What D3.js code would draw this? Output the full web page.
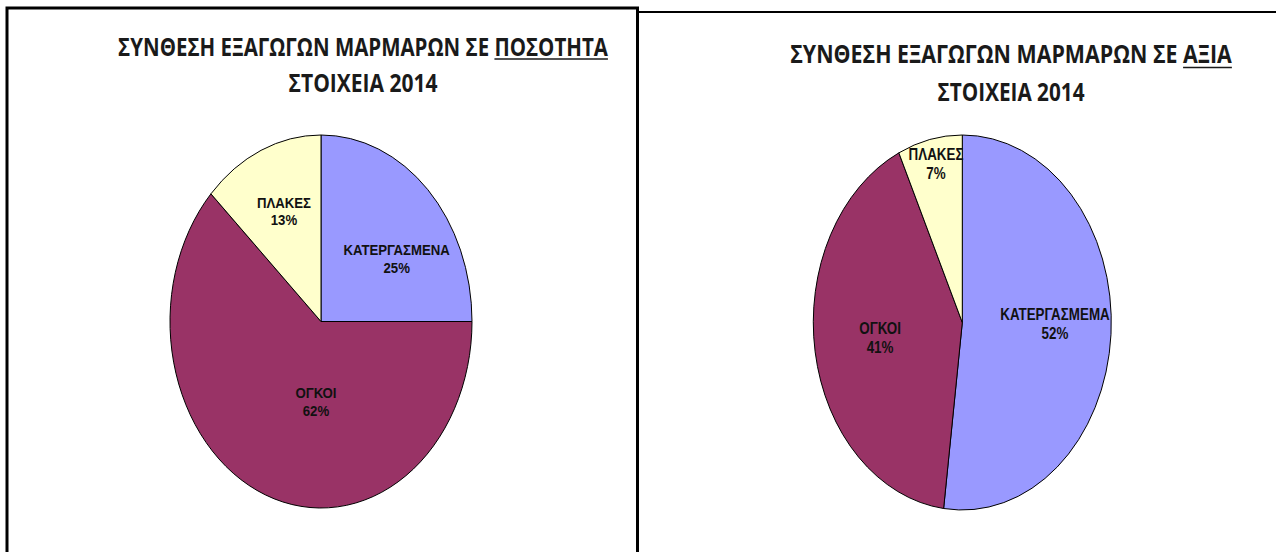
<!DOCTYPE html>
<html>
<head>
<meta charset="utf-8">
<script src="https://cdn.jsdelivr.net/npm/d3@7"></script>
<style>
  html, body { margin: 0; padding: 0; background: #fff; }
  svg { display: block; }
</style>
</head>
<body>
<svg width="1276" height="552"></svg>
<script>

// data (percent shares, 2014)
var qtyCategories = ["ΚΑΤΕΡΓΑΣΜΕΝΑ", "ΟΓΚΟΙ", "ΠΛΑΚΕΣ"];
var qtyShares = [25, 62, 13];
var valCategories = ["ΚΑΤΕΡΓΑΣΜΕΜΑ", "ΟΓΚΟΙ", "ΠΛΑΚΕΣ"];
var valShares = [52, 41, 7];
var sliceColors = ["#9999ff", "#993366", "#ffffcc"];

var titleMain = "ΣΥΝΘΕΣΗ ΕΞΑΓΩΓΩΝ ΜΑΡΜΑΡΩΝ ΣΕ ";
var titleSub = "ΣΤΟΙΧΕΙΑ 2014";

var svg = d3.select("svg"),
    width = +svg.attr("width"),
    height = +svg.attr("height");

// frames
svg.append("rect")
    .attr("x", 7).attr("y", 8)
    .attr("width", 630.5).attr("height", height)
    .attr("fill", "none")
    .attr("stroke", "#000")
    .attr("stroke-width", 3);

svg.append("line")
    .attr("x1", 637.5).attr("x2", width)
    .attr("y1", 12).attr("y2", 12)
    .attr("stroke", "#000")
    .attr("stroke-width", 2.2);

// layout of each panel
var panels = [
  { cats: qtyCategories, values: qtyShares, key: "ΠΟΣΟΤΗΤΑ",
    cx: 321, cy: 321.5, rx: 151, ry: 186.5,
    tx: 363, ty: [56, 92], tw: [490, 149], ul: 59,
    font: 13.2, sy: 1.05, gap: 17.7,
    labelR: [0.603, 0.435, 0.638], labelTurn: [11.2, -17.2, 0.8] },
  { cats: valCategories, values: valShares, key: "ΑΞΙΑ",
    cx: 962.3, cy: 322.5, rx: 149, ry: 187.5,
    tx: 1011, ty: [62.5, 101], tw: [442, 147], ul: 67.5,
    font: 13.4, sy: 1.22, gap: 19,
    labelR: [0.622, 0.558, 0.863], labelTurn: [-3.1, 0.5, 0.8] }
];

var pie = d3.pie().sort(null).value(function(d) { return d; });

// a title line squeezed horizontally to the width it has in the picture
function titleLine(x, y, w, str) {
  var g = svg.append("g");
  var t = g.append("text")
      .attr("text-anchor", "middle")
      .attr("font-family", "'Open Sans', sans-serif")
      .attr("font-weight", "bold")
      .attr("font-size", 25)
      .attr("fill", "#1a1a1a")
      .text(str);
  var k = w / t.node().getComputedTextLength();
  g.attr("transform", "translate(" + x + "," + y + ") scale(" + k + ",1)");
  return { g: g, t: t, k: k };
}

panels.forEach(function(p) {

  var l1 = titleLine(p.tx, p.ty[0], p.tw[0], titleMain + p.key);
  var node = l1.t.node(),
      first = titleMain.length,
      last = titleMain.length + p.key.length - 1;
  l1.g.append("line")
      .attr("x1", node.getStartPositionOfChar(first).x)
      .attr("x2", node.getEndPositionOfChar(last).x)
      .attr("y1", p.ul - p.ty[0]).attr("y2", p.ul - p.ty[0])
      .attr("stroke", "#1a1a1a")
      .attr("stroke-width", 1.7)
      .attr("vector-effect", "non-scaling-stroke");

  titleLine(p.tx, p.ty[1], p.tw[1], titleSub);

  // the pie is a circle squashed into the ellipse
  var arcs = pie(p.values);
  var arc = d3.arc().innerRadius(0).outerRadius(p.rx);

  svg.append("g")
      .attr("transform", "translate(" + p.cx + "," + p.cy + ") scale(1," + (p.ry / p.rx) + ")")
    .selectAll("path")
    .data(arcs)
    .enter().append("path")
      .attr("d", arc)
      .attr("fill", function(d, i) { return sliceColors[i]; })
      .attr("stroke", "#000")
      .attr("stroke-width", 1)
      .attr("vector-effect", "non-scaling-stroke");

  // data labels
  var lab = svg.append("g").selectAll("g")
    .data(arcs)
    .enter().append("g")
      .attr("transform", function(d, i) {
        var a = (d.startAngle + d.endAngle) / 2 + p.labelTurn[i] * Math.PI / 180,
            x = p.cx + Math.sin(a) * p.rx * p.labelR[i],
            y = p.cy - Math.cos(a) * p.ry * p.labelR[i];
        return "translate(" + x + "," + y + ") scale(1," + p.sy + ")";
      })
      .attr("font-family", "'Liberation Sans', Arial, sans-serif")
      .attr("font-weight", "bold")
      .attr("font-size", p.font)
      .attr("text-anchor", "middle")
      .attr("fill", "#111");

  lab.append("text")
      .attr("y", -(p.gap / p.sy) / 2 + 4.6)
      .text(function(d, i) { return p.cats[i]; });

  lab.append("text")
      .attr("y", (p.gap / p.sy) / 2 + 4.6)
      .text(function(d) { return d.data + "%"; });
});

</script>
</body>
</html>
